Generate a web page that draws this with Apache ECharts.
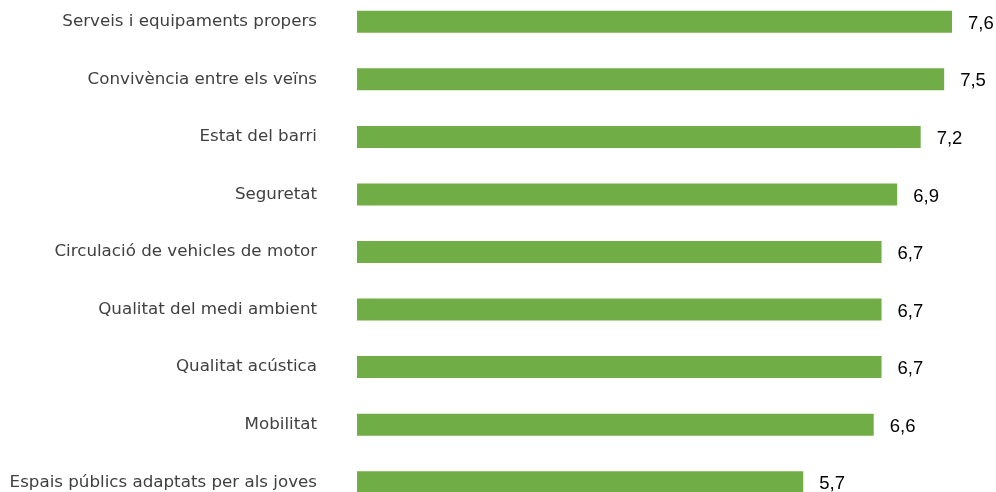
<!DOCTYPE html>
<html><head><meta charset="utf-8">
<script src="https://cdn.jsdelivr.net/npm/echarts@6/dist/echarts.min.js"></script>
<style>html,body{margin:0;padding:0;background:#fff;overflow:hidden}#c{width:996px;height:517.5px;margin-top:-6.75px}</style>
</head><body><div id="c"></div>
<script>
const categories = ["Serveis i equipaments propers","Convivència entre els veïns","Estat del barri","Seguretat","Circulació de vehicles de motor","Qualitat del medi ambient","Qualitat acústica","Mobilitat","Espais públics adaptats per als joves"];
const values = [7.6,7.5,7.2,6.9,6.7,6.7,6.7,6.6,5.7];
const chart = echarts.init(document.getElementById('c'));
chart.setOption({
  animation:false,
  grid:{left:357,top:0,width:595,bottom:0,containLabel:false},
  xAxis:{type:'value',min:0,max:7.6,show:false},
  yAxis:{type:'category',inverse:true,data:categories,
    axisLine:{show:false},axisTick:{show:false},
    axisLabel:{margin:40,color:'#404040',fontFamily:'DejaVu Sans',fontSize:16.7}},
  series:[{type:'bar',data:values,barWidth:22,itemStyle:{color:'#70AD47'},
    label:{show:true,position:'right',distance:16,color:'#000',fontFamily:'Liberation Sans',fontSize:18.5,offset:[0,2],
      formatter:p=>p.value.toFixed(1).replace('.',',')}}]
});
</script></body></html>
